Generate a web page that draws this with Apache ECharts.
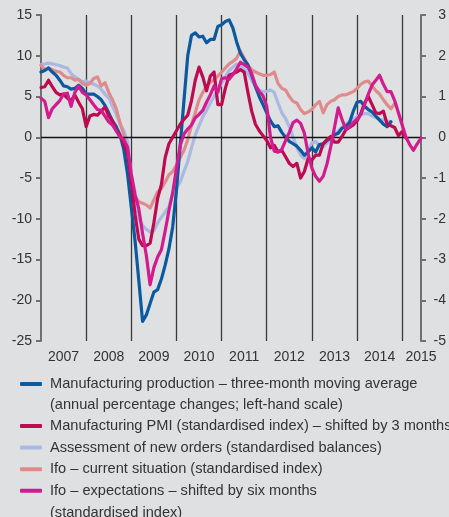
<!DOCTYPE html>
<html><head><meta charset="utf-8">
<script src="https://cdn.jsdelivr.net/npm/echarts@6/dist/echarts.min.js"></script>
<style>html,body{margin:0;padding:0;background:#dfe0e2;}#c{width:449px;height:517px;}</style>
</head><body><div id="c"></div>
<script>
// ---- data (monthly, starting Jan 2007) ----
const years = ['2007','2008','2009','2010','2011','2012','2013','2014','2015'];
const months = [];
years.forEach(y => { for (let m = 1; m <= 12; m++) months.push(y + '-' + (m < 10 ? '0' + m : m)); });
const categories = months.slice(0, 102); // Jan 2007 .. Jun 2015

const production = [8.0,8.2,8.5,8.0,7.6,7.0,6.3,6.2,5.9,6.0,6.4,6.0,
  5.3,5.3,5.3,5.0,4.6,3.9,3.0,2.0,1.3,0.3,-1.5,-4.5,
  -8.6,-12.7,-17.6,-22.6,-21.8,-20.4,-19.0,-18.7,-17.4,-15.7,-13.7,-11.0,
  -6.5,-1.0,4.5,10.0,12.5,12.8,12.3,12.4,11.6,12.0,12.0,13.6,
  13.8,14.2,14.4,13.4,11.7,10.3,9.5,8.9,7.6,6.2,5.0,4.0,
  3.0,2.0,1.3,1.4,0.6,0.0,-0.5,-0.8,-1.1,-1.6,-2.2,-1.8,
  -1.3,-1.8,-0.9,-0.8,-0.4,-0.1,0.3,0.5,1.1,1.3,1.8,3.2,
  4.3,4.4,3.8,3.4,3.1,2.6,2.1,1.6,1.3,1.9];
const pmi = [6.1,6.2,7.0,6.2,5.5,5.2,5.3,4.8,4.5,5.2,4.3,3.5,
  1.3,2.6,2.8,2.7,3.2,3.7,2.6,2.0,0.8,0.2,-0.8,-2.0,
  -5.5,-9.5,-12.5,-13.3,-13.3,-13.0,-10.5,-7.5,-5.8,-2.5,-0.8,0.0,
  0.8,1.6,2.2,2.7,4.5,7.0,8.6,7.4,5.7,7.5,8.0,4.0,
  4.0,6.0,7.6,7.8,8.0,8.3,8.0,5.5,3.2,1.6,0.8,0.2,
  -0.4,-1.3,-1.0,-1.8,-1.6,-2.4,-3.2,-3.6,-3.2,-5.0,-4.2,-2.6,
  -2.8,-2.2,-2.2,-0.8,-0.3,0.1,-0.6,-0.6,0.1,0.9,1.2,1.5,
  2.0,2.9,4.2,5.0,4.0,3.0,2.9,3.2,1.6,1.4,1.2,0.2,
  0.7,-0.1];
const newOrders = [8.9,9.0,9.1,9.0,8.9,8.8,8.6,8.5,7.8,7.4,7.1,6.8,
  6.9,6.7,6.5,6.3,5.9,5.3,4.8,3.8,2.8,1.6,0.8,-0.5,
  -5.0,-8.5,-10.0,-10.8,-11.3,-11.6,-11.5,-10.5,-9.8,-9.2,-8.5,-7.0,
  -6.2,-5.5,-4.2,-3.0,-1.3,0.3,1.4,2.5,3.3,4.2,5.0,5.8,
  6.6,7.4,8.2,8.6,9.0,8.7,8.4,7.8,7.0,6.2,5.8,5.6,
  5.6,5.8,5.5,4.2,3.0,2.3,1.3,0.0,-1.2,-2.2,-2.6,-1.6,
  -0.7,-0.5,-1.1,-1.2,-0.7,-0.3,0.3,0.8,1.2,1.6,1.9,2.2,
  2.5,2.8,2.9,2.9,2.6,2.4,2.2,2.1,2.0,1.9];
const ifoCurrent = [8.8,8.3,8.5,8.3,8.1,8.0,7.6,7.3,7.3,7.0,7.1,6.6,
  6.4,6.6,7.2,7.4,6.3,6.7,5.5,4.6,3.5,1.8,0.3,-2.5,
  -5.5,-7.3,-7.9,-8.1,-8.3,-8.7,-7.7,-6.7,-6.3,-5.5,-4.6,-4.2,
  -3.4,-2.5,-1.6,-0.3,1.5,3.0,4.6,5.5,6.3,6.7,7.1,7.5,
  8.0,8.5,9.0,9.3,9.7,10.6,9.7,8.8,8.3,8.0,7.8,7.6,
  7.6,7.7,8.0,6.6,6.0,5.8,5.0,4.4,4.2,3.4,2.9,3.1,
  3.4,4.0,4.4,3.0,4.0,4.4,4.6,5.0,5.2,5.2,5.4,5.6,
  6.0,6.5,6.8,6.9,6.3,5.7,5.3,4.6,4.0,3.5,4.1];
const ifoExpect = [4.8,4.4,2.4,3.5,4.0,4.5,5.3,5.4,3.8,5.5,6.3,5.5,
  5.2,4.6,4.0,3.4,3.3,2.6,1.9,1.5,0.8,0.0,-0.3,-1.2,
  -4.5,-7.0,-8.8,-11.8,-14.5,-18.1,-16.0,-14.7,-13.8,-11.5,-9.0,-6.8,
  -3.8,-1.0,0.4,1.0,1.5,2.4,2.8,3.3,4.3,5.2,6.3,5.5,
  7.2,7.3,7.1,7.7,8.4,9.2,8.9,8.6,7.8,6.4,5.6,5.1,
  3.8,0.0,-1.7,-1.8,-1.5,-0.4,0.6,1.8,2.1,1.7,0.5,-2.0,
  -3.8,-4.8,-5.4,-4.8,-3.3,-1.2,1.2,3.6,2.2,1.0,1.3,1.8,
  2.2,2.8,4.0,5.3,6.4,7.0,7.6,6.5,5.6,5.6,4.5,3.0,
  1.5,0.0,-0.9,-1.6,-0.8,-0.1];
const leftTicks = {min: -25, max: 15, step: 5};
const rightTicks = {min: -5, max: 3, step: 1};
const names = [
  'Manufacturing production – three-month moving average',
  'Manufacturing PMI (standardised index) – shifted by 3 months',
  'Assessment of new orders (standardised balances)',
  'Ifo – current situation (standardised index)',
  'Ifo – expectations – shifted by six months'
];
const extraLines = ['(annual percentage changes; left-hand scale)', '(standardised index)'];
const colors = ['#0b5a9f', '#bd0a50', '#aab9e2', '#df8b8b', '#d11b8f'];

// ---- chart ----
const FONT = 'Liberation Sans';
const LFS = 14.6;
const chart = echarts.init(document.getElementById('c'), null, {renderer: 'canvas'});
function line(name, data, color, z) {
  return {name, type: 'line', data, symbol: 'none', smooth: false, z,
    lineStyle: {color, width: 3.2, join: 'round', cap: 'round'}, itemStyle: {color},
    emphasis: {disabled: true}};
}
const legendText = {color: '#333', fontFamily: FONT, fontSize: LFS, lineHeight: 16, padding: [0, 0, 0, 3]};
chart.setOption({
  backgroundColor: '#dfe0e2',
  animation: false,
  grid: {left: 41, right: 26.5, top: 15, bottom: 176, containLabel: false},
  xAxis: {
    type: 'category', data: categories, boundaryGap: false,
    axisLine: {show: false}, axisTick: {show: false},
    axisLabel: {
      interval: (i) => (i % 12 === 6) || i === categories.length - 1,
      formatter: (v) => v.slice(0, 4), color: '#333', fontFamily: FONT, fontSize: 14, margin: 9
    },
    splitLine: {show: true, interval: (i) => i > 0 && i % 12 === 0, lineStyle: {color: '#3a3a3a', width: 1.3}}
  },
  yAxis: [
    {type: 'value', min: leftTicks.min, max: leftTicks.max, interval: leftTicks.step, position: 'left',
     axisLine: {show: true, lineStyle: {color: '#707070', width: 2}},
     axisTick: {show: true, length: 5, lineStyle: {color: '#707070', width: 2}},
     axisLabel: {color: '#333', fontFamily: FONT, fontSize: 14, margin: 9},
     splitLine: {show: false}},
    {type: 'value', min: rightTicks.min, max: rightTicks.max, interval: rightTicks.step, position: 'right',
     axisLine: {show: true, lineStyle: {color: '#707070', width: 2}},
     axisTick: {show: true, length: 5, lineStyle: {color: '#707070', width: 2}},
     axisLabel: {color: '#333', fontFamily: FONT, fontSize: 14, margin: 25, align: 'right'},
     splitLine: {show: false}}
  ],
  legend: [
    {data: [names[0]], left: 20, top: 376, orient: 'vertical', padding: 0, itemGap: 0,
     icon: 'roundRect', itemWidth: 22, itemHeight: 4, textStyle: legendText, selectedMode: false},
    {data: names.slice(1), left: 20, top: 418, orient: 'vertical', padding: 0, itemGap: 5.6,
     icon: 'roundRect', itemWidth: 22, itemHeight: 4, textStyle: legendText, selectedMode: false}
  ],
  graphic: [
    {type: 'text', left: 50, top: 397.5, style: {text: extraLines[0], fill: '#333', font: LFS + 'px ' + FONT}},
    {type: 'text', left: 50, top: 505, style: {text: extraLines[1], fill: '#333', font: LFS + 'px ' + FONT}}
  ],
  series: [
    {type: 'line', data: [], z: 1, markLine: {silent: true, symbol: 'none', label: {show: false},
      lineStyle: {color: '#111', width: 1.3, type: 'solid'}, data: [{yAxis: 0}]}},
    line(names[2], newOrders, colors[2], 2),
    line(names[3], ifoCurrent, colors[3], 3),
    line(names[0], production, colors[0], 4),
    line(names[1], pmi, colors[1], 5),
    line(names[4], ifoExpect, colors[4], 6)
  ]
});
</script></body></html>
